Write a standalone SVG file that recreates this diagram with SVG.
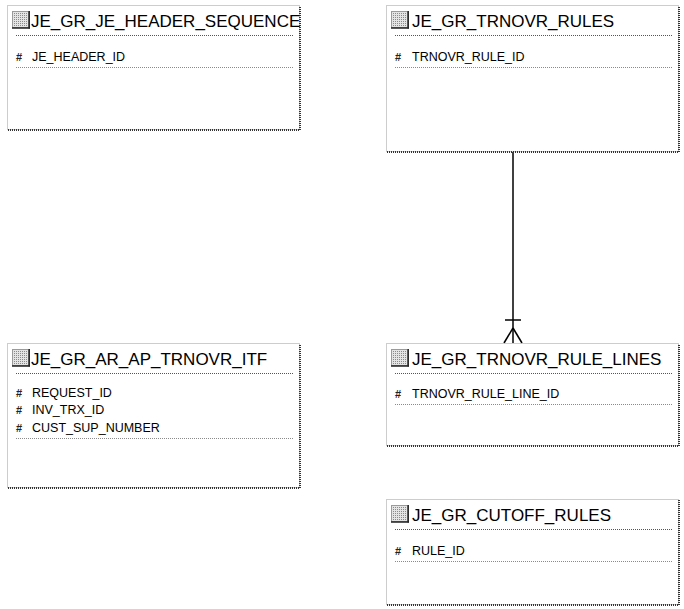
<svg xmlns="http://www.w3.org/2000/svg" xmlns:xlink="http://www.w3.org/1999/xlink" width="684" height="609" viewBox="0 0 684 609">
<style>
  .box { fill: #ffffff; stroke: #9a9a9a; stroke-width: 1; stroke-dasharray: 1 1; }
  .shadow { stroke: #333333; stroke-width: 2; stroke-dasharray: 1 1; fill: none; }
  .sep1 { stroke: #555555; stroke-width: 1; stroke-dasharray: 1 1; }
  .sep2 { stroke: #8a8a8a; stroke-width: 1; stroke-dasharray: 1 1; }
  .title { font-family: "Liberation Sans", Arial, sans-serif; font-size: 17px; fill: #000000; }
  .attr { font-family: "Liberation Sans", Arial, sans-serif; font-size: 12.5px; fill: #000000; }
  .hash { font-family: "Liberation Sans", Arial, sans-serif; font-size: 11px; font-weight: bold; fill: #222222; }
  .conn { stroke: #000000; stroke-width: 1.5; fill: none; }
</style>
<defs>
  <pattern id="grid" width="2" height="2" patternUnits="userSpaceOnUse">
    <rect width="2" height="2" fill="#e4e4e4"/>
    <rect width="1" height="1" fill="#8a8a8a"/>
  </pattern>
  <symbol id="icon" viewBox="0 0 18 18" width="18" height="18" overflow="visible">
    <rect x="0.5" y="0.5" width="16" height="16" fill="url(#grid)" stroke="#9a9a9a" stroke-width="1"/>
    <line x1="0" y1="17" x2="18" y2="17" stroke="#222" stroke-width="1.5"/>
    <line x1="17.2" y1="0" x2="17.2" y2="17.5" stroke="#222" stroke-width="1.5"/>
  </symbol>
</defs>

<g id="connectors">
  <line class="conn" x1="513" y1="152" x2="513" y2="343"/>
  <line class="conn" x1="505" y1="320" x2="521" y2="320"/>
  <line class="conn" x1="513" y1="328" x2="504" y2="343"/>
  <line class="conn" x1="513" y1="328" x2="522" y2="343"/>
</g>

<g id="JE_GR_JE_HEADER_SEQUENCE">
  <rect class="box" x="7.5" y="5.5" width="292" height="124"/>
  <polyline class="shadow" points="8,130 300,130 300,6"/>
  <use xlink:href="#icon" x="12" y="11"/>
  <text class="title" x="31" y="27">JE_GR_JE_HEADER_SEQUENCE</text>
  <line class="sep1" x1="16" y1="35.5" x2="293" y2="35.5"/>
  <text class="hash" x="16" y="61">#</text>
  <text class="attr" x="32" y="61">JE_HEADER_ID</text>
  <line class="sep2" x1="16" y1="67.5" x2="293" y2="67.5"/>
</g>

<g id="JE_GR_TRNOVR_RULES">
  <rect class="box" x="386.5" y="5.5" width="292" height="146"/>
  <polyline class="shadow" points="387,152 679,152 679,6"/>
  <use xlink:href="#icon" x="391" y="11"/>
  <text class="title" x="412" y="27">JE_GR_TRNOVR_RULES</text>
  <line class="sep1" x1="395" y1="35.5" x2="672" y2="35.5"/>
  <text class="hash" x="395" y="61">#</text>
  <text class="attr" x="412" y="61">TRNOVR_RULE_ID</text>
  <line class="sep2" x1="395" y1="67.5" x2="672" y2="67.5"/>
</g>

<g id="JE_GR_AR_AP_TRNOVR_ITF">
  <rect class="box" x="7.5" y="343.5" width="292" height="144"/>
  <polyline class="shadow" points="8,488 300,488 300,344"/>
  <use xlink:href="#icon" x="12" y="349"/>
  <text class="title" x="31" y="365">JE_GR_AR_AP_TRNOVR_ITF</text>
  <line class="sep1" x1="16" y1="373.5" x2="293" y2="373.5"/>
  <text class="hash" x="16" y="397">#</text>
  <text class="attr" x="32" y="397">REQUEST_ID</text>
  <text class="hash" x="16" y="414">#</text>
  <text class="attr" x="32" y="414">INV_TRX_ID</text>
  <text class="hash" x="16" y="432">#</text>
  <text class="attr" x="32" y="432">CUST_SUP_NUMBER</text>
  <line class="sep2" x1="16" y1="438.5" x2="293" y2="438.5"/>
</g>

<g id="JE_GR_TRNOVR_RULE_LINES">
  <rect class="box" x="386.5" y="343.5" width="292" height="102"/>
  <polyline class="shadow" points="387,446 679,446 679,344"/>
  <use xlink:href="#icon" x="391" y="349"/>
  <text class="title" x="412" y="365">JE_GR_TRNOVR_RULE_LINES</text>
  <line class="sep1" x1="395" y1="373.5" x2="672" y2="373.5"/>
  <text class="hash" x="395" y="398">#</text>
  <text class="attr" x="412" y="398">TRNOVR_RULE_LINE_ID</text>
  <line class="sep2" x1="395" y1="404.5" x2="672" y2="404.5"/>
</g>

<g id="JE_GR_CUTOFF_RULES">
  <rect class="box" x="386.5" y="499.5" width="292" height="105"/>
  <polyline class="shadow" points="387,605 679,605 679,500"/>
  <use xlink:href="#icon" x="391" y="505"/>
  <text class="title" x="412" y="521">JE_GR_CUTOFF_RULES</text>
  <line class="sep1" x1="395" y1="529.5" x2="672" y2="529.5"/>
  <text class="hash" x="395" y="555">#</text>
  <text class="attr" x="412" y="555">RULE_ID</text>
  <line class="sep2" x1="395" y1="561.5" x2="672" y2="561.5"/>
</g>
</svg>
